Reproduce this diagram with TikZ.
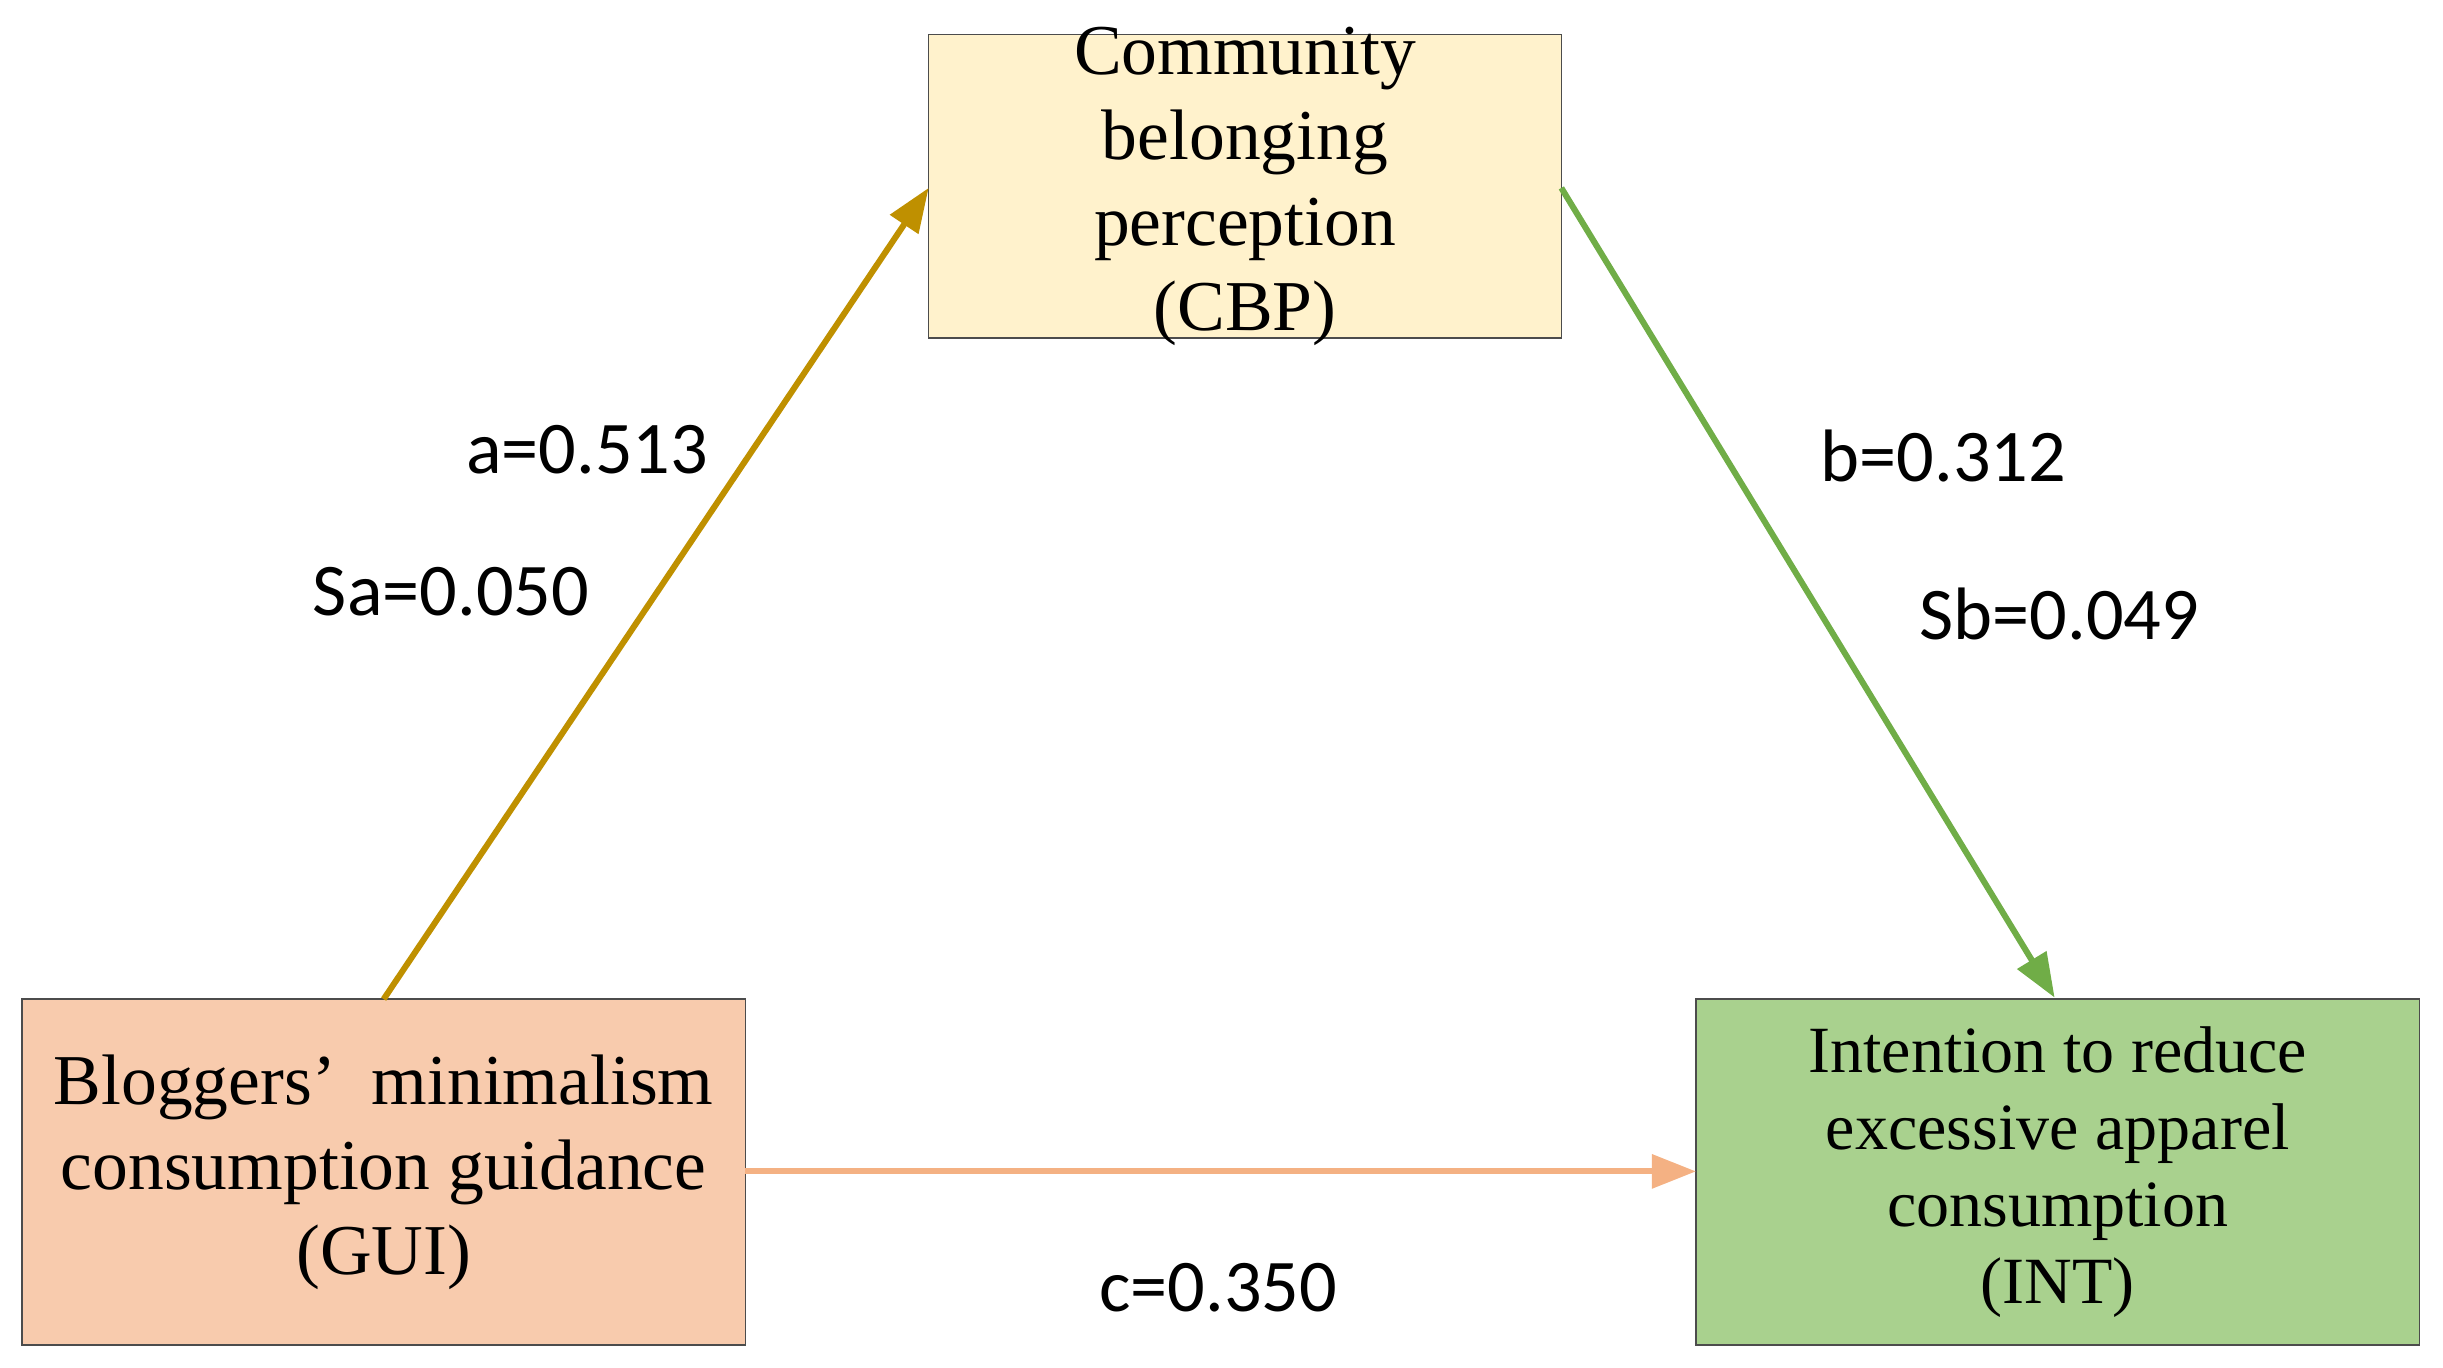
\documentclass[tikz,border=0pt]{standalone}
\usepackage{fontspec}
\setmainfont{Liberation Serif}
\newfontfamily\lblfont{Carlito}
\usetikzlibrary{arrows.meta}
\definecolor{cbpfill}{HTML}{FFF2CC}
\definecolor{guifill}{HTML}{F8CBAD}
\definecolor{intfill}{HTML}{A9D18E}
\definecolor{acol}{HTML}{BF9000}
\definecolor{bcol}{HTML}{70AD47}
\definecolor{ccol}{HTML}{F4B183}
\begin{document}
\begin{tikzpicture}[x=0.02cm,y=-0.02cm,
  boxst/.style={draw=black!70,line width=0.6pt,inner sep=0pt},
  lbl/.style={font=\lblfont\fontsize{27}{30}\selectfont},
  arr/.style={line width=2.2pt,-{Triangle[length=16pt,width=12pt]}}]
\useasboundingbox (0,0) rectangle (1560,873);
\node[boxst,fill=cbpfill,minimum width=404*0.02cm,minimum height=194*0.02cm] (cbp) at (795,119) {};
\node[align=center,font=\fontsize{26}{31}\selectfont] at (cbp.center) {Community\\belonging\\perception\\(CBP)};
\node[boxst,fill=guifill,minimum width=462*0.02cm,minimum height=221*0.02cm] (gui) at (245,748.5) {};
\node[align=center,font=\fontsize{26}{31}\selectfont] at (gui.center) {Bloggers’\ \ minimalism\\consumption guidance\\(GUI)};
\node[boxst,fill=intfill,minimum width=462*0.02cm,minimum height=221*0.02cm] (int) at (1314,748.5) {};
\node[align=center,font=\fontsize{24}{28}\selectfont] at (int.center) {Intention to reduce\\excessive apparel\\consumption\\(INT)};
\coordinate (gtop) at (245,638);
\coordinate (cl) at (593,120);
\coordinate (cr) at (997,120);
\coordinate (itop) at (1312,637);
\coordinate (gr) at (476,748);
\coordinate (il) at (1083,748);
\draw[arr,acol] (gtop) -- (cl);
\draw[arr,bcol] (cr) -- (itop);
\draw[arr,ccol] (gr) -- (il);
\node[lbl] (la) at (375,287) {a=0.513};
\node[lbl] (lsa) at (288,378) {Sa=0.050};
\node[lbl] (lb) at (1241,291) {b=0.312};
\node[lbl] (lsb) at (1315,392) {Sb=0.049};
\node[lbl] (lc) at (778,822) {c=0.350};
\end{tikzpicture}
\end{document}
